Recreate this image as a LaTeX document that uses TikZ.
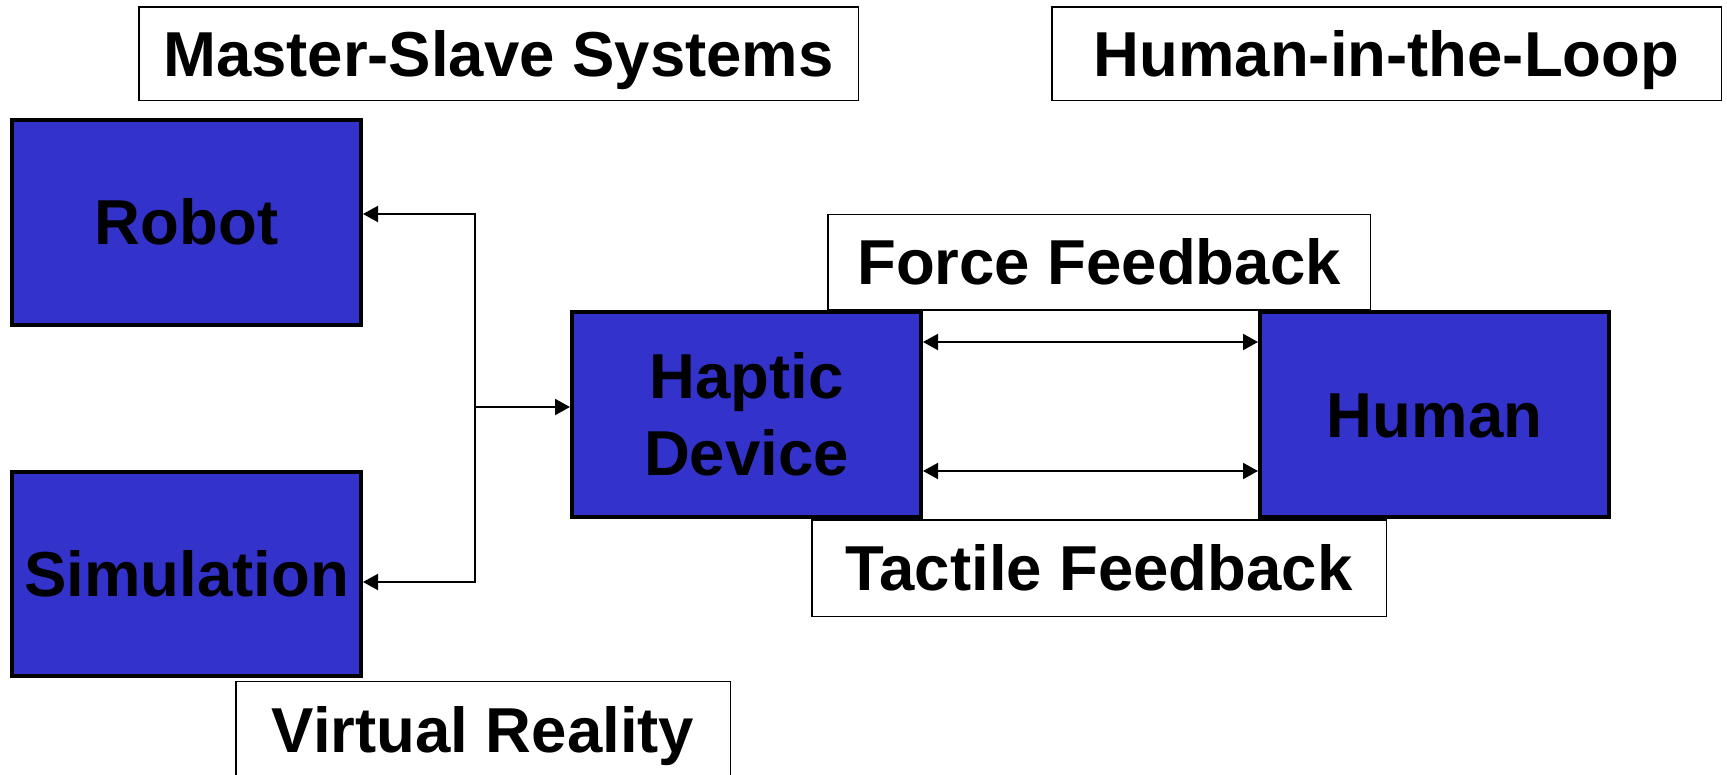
\documentclass[tikz,border=0pt]{standalone}
\usepackage{fontspec}
\setmainfont{Liberation Sans}
\usetikzlibrary{arrows.meta}
\definecolor{boxblue}{RGB}{51,51,204}
\begin{document}
\begin{tikzpicture}[x=1pt,y=-1pt,
  lbl/.style={font=\fontsize{63.5}{76.2}\selectfont\bfseries,
    text height=45pt, text depth=0pt, inner sep=0pt},
  bluebox/.style={lbl, draw=black, line width=4pt, fill=boxblue},
  tagbox/.style={lbl, draw=black, line width=1.5pt, fill=white},
  link/.style={line width=2pt},
  tip/.style={-{Triangle[length=15pt,width=16pt]}},
  twotip/.style={{Triangle[length=15pt,width=16pt]}-{Triangle[length=15pt,width=16pt]}},
]
\useasboundingbox (0,0) rectangle (1727,775);

% caption boxes
\node[tagbox, minimum width=719.5pt, minimum height=93.5pt] (ms) at (498.5,54) {Master-Slave Systems};
\node[tagbox, minimum width=669.5pt, minimum height=93.5pt] (hl) at (1386.5,54) {Human-in-the-Loop};
\node[tagbox, minimum width=542.5pt, minimum height=95.5pt] (ff) at (1099,262.5) {Force Feedback};
\node[tagbox, minimum width=574.5pt, minimum height=96.5pt] (tf) at (1099,568) {Tactile Feedback};
\node[tagbox, minimum width=494.5pt, minimum height=96.5pt] (vr) at (483,729.5) {Virtual Reality};

% main blocks
\node[bluebox, minimum width=349pt, minimum height=205pt] (robot) at (186.5,222.5) {Robot};
\node[bluebox, minimum width=349pt, minimum height=204pt] (sim) at (186.5,574) {Simulation};
\node[bluebox, minimum width=349pt, minimum height=205pt, align=center, text height=121pt] (haptic) at (746.5,414.5) {Haptic\\Device};
\node[bluebox, minimum width=349pt, minimum height=205pt] (human) at (1434.5,414.5) {Human};

% branching connector on the left
\coordinate (jt) at (475,214);
\coordinate (jm) at (475,407);
\coordinate (jb) at (475,582);
\draw[link,tip] (jb) -- (jt) -- (jt -| robot.east);
\draw[link,tip] (jt) -- (jb) -- (jb -| sim.east);
\draw[link,tip] (jm) -- (jm -| haptic.west);

% feedback channels
\coordinate (fl) at (1090,342);
\coordinate (tl) at (1090,471);
\draw[link,twotip] (haptic.east |- fl) -- (human.west |- fl);
\draw[link,twotip] (haptic.east |- tl) -- (human.west |- tl);
\end{tikzpicture}
\end{document}
